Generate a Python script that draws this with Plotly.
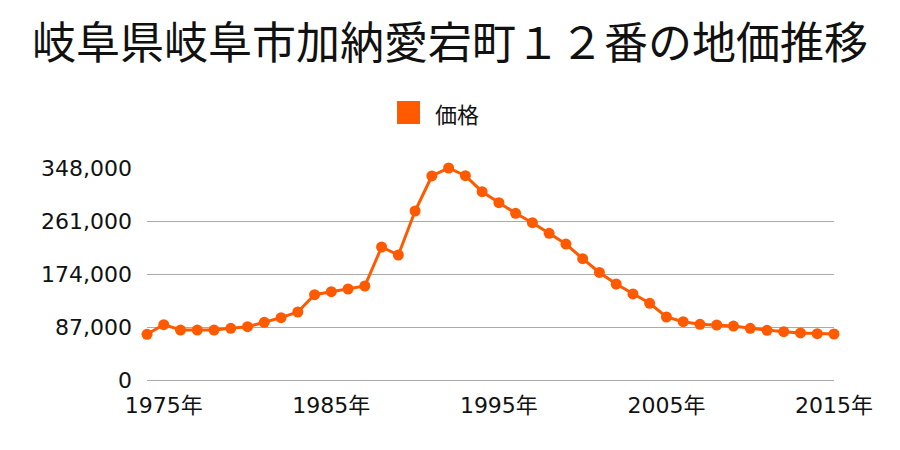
import plotly.graph_objects as go

years = list(range(1974, 2016))
prices = [75000, 90800, 82000, 82000, 82000, 84900, 87500, 94700, 102300, 111600,
          140100, 145000, 149400, 154300, 218300, 205200, 277400, 334900, 348000, 335400,
          309100, 291000, 273600, 258200, 240800, 223200, 199100, 176500, 157600, 141200,
          125900, 103400, 95700, 91400, 90300, 88600, 84900, 81600, 79300, 77200,
          76000, 75500]
x_tick_vals = [1975, 1985, 1995, 2005, 2015]
x_tick_text = ["1975年", "1985年", "1995年", "2005年", "2015年"]
y_tick_vals = [0, 87000, 174000, 261000, 348000]
y_tick_text = ["0", "87,000", "174,000", "261,000", "348,000"]
series_name = "価格"
title_text = "岐阜県岐阜市加納愛宕町１２番の地価推移"

color = "#FF5A00"
cjk = "Noto Sans CJK JP"
num_font = "DejaVu Sans, Noto Sans CJK JP"

# page body has an 8px margin; compensate so the plot lands where the reference has it
L, T = 139, 160
W, H = 687, 212

fig = go.Figure()
fig.add_trace(go.Scatter(
    x=years, y=prices, mode="lines+markers", name=series_name,
    line=dict(color=color, width=3),
    marker=dict(color=color, size=11),
    cliponaxis=False, showlegend=False,
))

def px_x(fx):
    return (fx - L) / W

def px_y(fy):
    return (T + H - fy) / H

fig.add_shape(type="rect", xref="paper", yref="paper",
              x0=px_x(389), x1=px_x(412), y0=px_y(116), y1=px_y(93),
              fillcolor=color, line=dict(width=0))
fig.add_annotation(text=series_name, xref="paper", yref="paper",
                   x=px_x(425), y=px_y(105), xanchor="left", yanchor="middle",
                   showarrow=False, font=dict(size=22, family=cjk, color="#111111"))

fig.update_layout(
    width=900, height=450,
    margin=dict(l=L, r=900 - L - W, t=T, b=450 - T - H),
    paper_bgcolor="white", plot_bgcolor="white",
    font=dict(family=cjk, color="#111111"),
    title=dict(text=title_text, x=0.5 - 8 / 900,
               xanchor="center", y=1 - 36 / 450, yanchor="middle",
               font=dict(size=44, family=cjk, color="#111111")),
    showlegend=False,
    xaxis=dict(range=[1974, 2015], tickmode="array", tickvals=x_tick_vals,
               ticktext=x_tick_text, showgrid=False, zeroline=False, showline=False,
               tickfont=dict(size=22, family=num_font), ticks="", ticklabelstandoff=10),
    yaxis=dict(range=[0, 348000], tickmode="array", tickvals=y_tick_vals,
               ticktext=y_tick_text, showgrid=True, gridcolor="#aaaaaa", gridwidth=1,
               zeroline=True, zerolinecolor="#aaaaaa", zerolinewidth=1, showline=False,
               tickfont=dict(size=22, family=num_font), ticks="",
               ticklabelstandoff=14),
)

fig.write_html("out.html")
